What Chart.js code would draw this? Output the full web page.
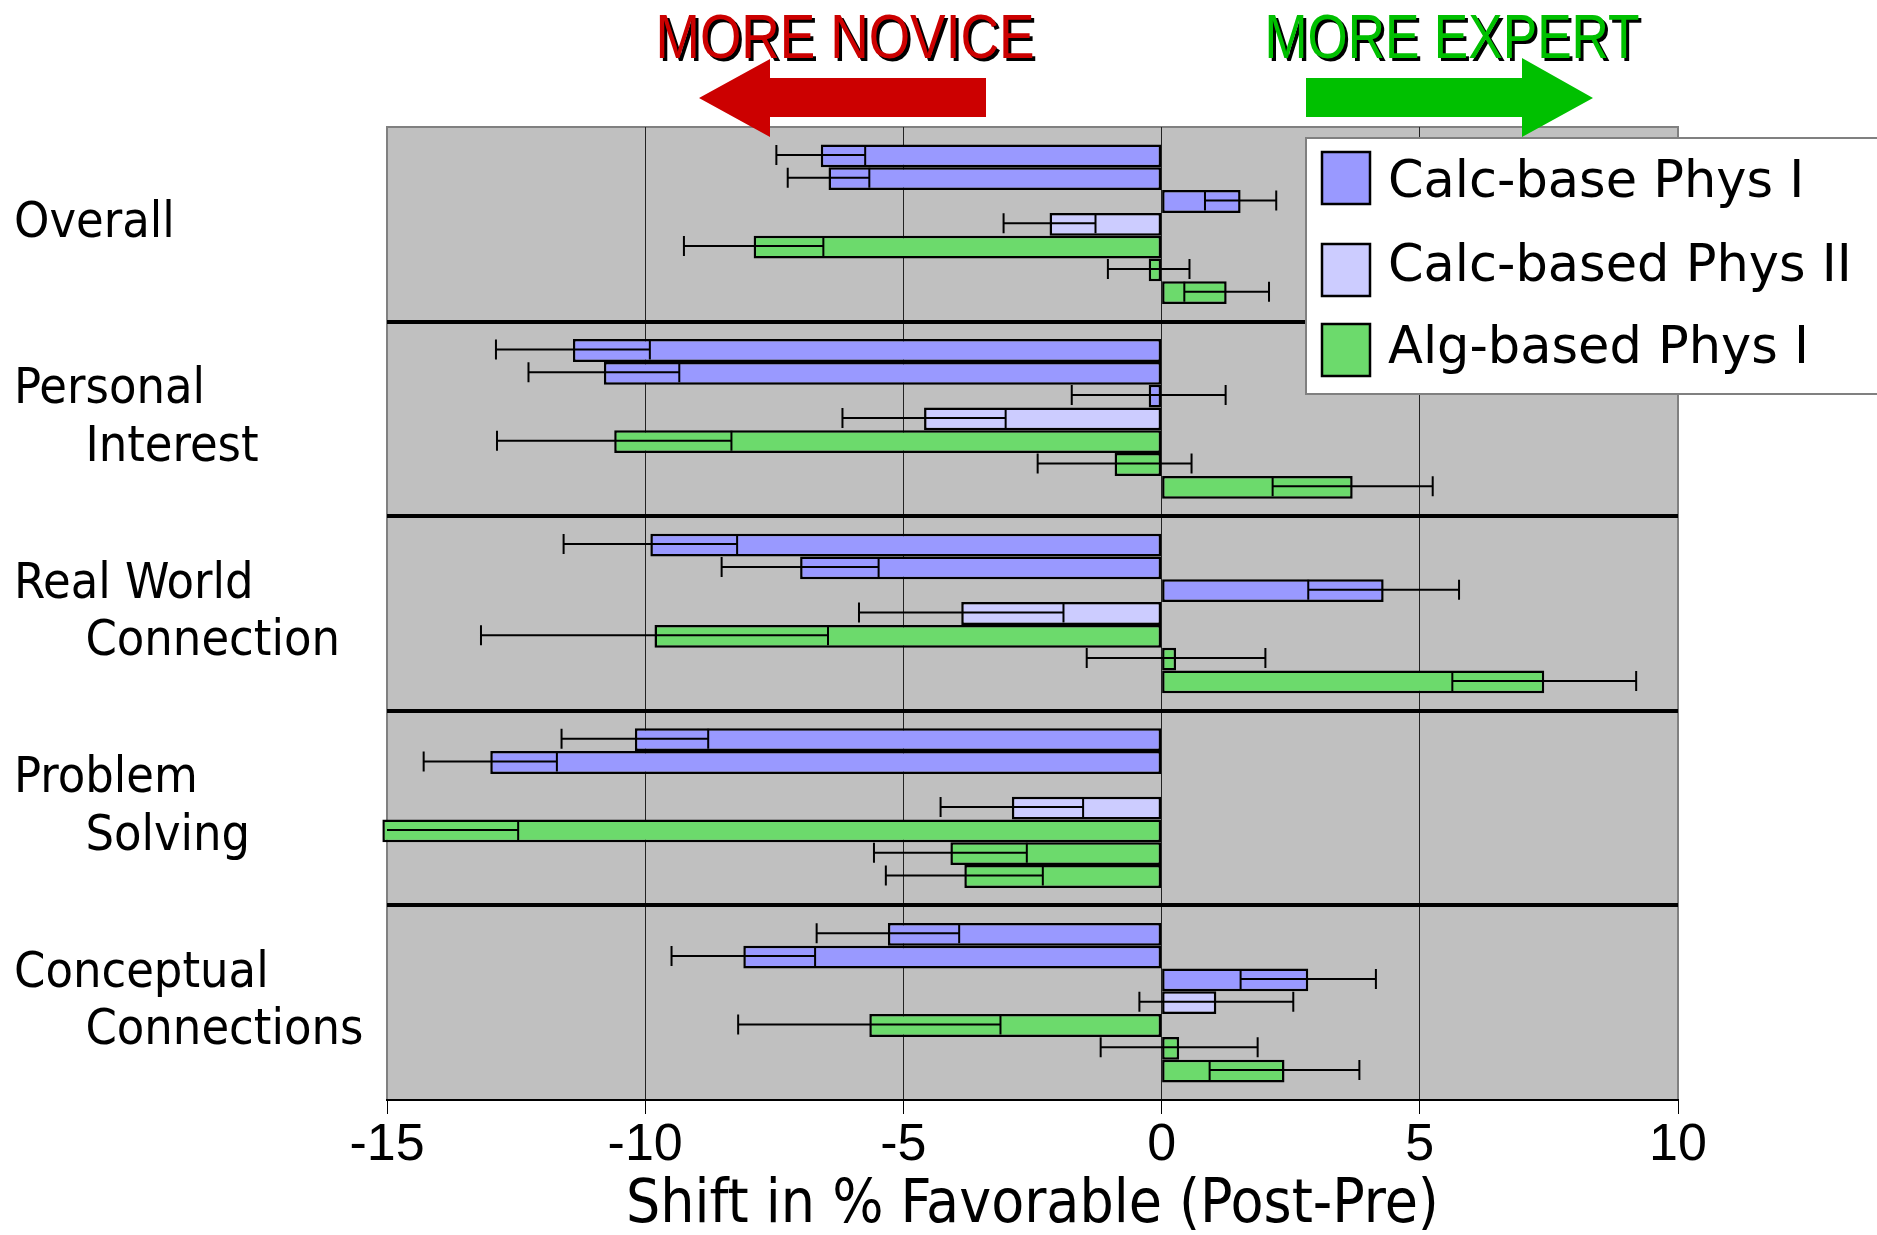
<!DOCTYPE html>
<html>
<head>
<meta charset="utf-8">
<title>Shift in % Favorable (Post-Pre)</title>
<script src="https://cdn.jsdelivr.net/npm/chart.js@4.4.1/dist/chart.umd.min.js"></script>
<style>
  html, body { margin: 0; padding: 0; background: #fff; }
  canvas { display: block; }
</style>
</head>
<body>
<canvas id="grafico" width="1877" height="1235"></canvas>
<script>
// Category labels (second line indented)
const categorias = [
    ['Overall'],
    ['Personal', '     Interest'],
    ['Real World', '     Connection'],
    ['Problem', '     Solving'],
    ['Conceptual', '     Connections']
];

// Shift values per course, one bar per course section
const calcI_a   = [-6.6, -11.4, -9.9, -10.2, -5.3];
const calcI_b   = [-6.45, -10.8, -7.0, -13.0, -8.1];
const calcI_c   = [1.53, -0.25, 4.3, null, 2.84];
const calcII    = [-2.17, -4.6, -3.88, -2.9, 1.06];
const algI_a    = [-7.9, -10.6, -9.82, -15.09, -5.66];
const algI_b    = [-0.25, -0.91, 0.28, -4.09, 0.34];
const algI_c    = [1.26, 3.7, 7.41, -3.82, 2.38];

// Standard errors for each bar
const erroCalcI_a = [0.86, 1.49, 1.68, 1.42, 1.38];
const erroCalcI_b = [0.79, 1.46, 1.52, 1.29, 1.39];
const erroCalcI_c = [0.69, 1.49, 1.46, null, 1.31];
const erroCalcII  = [0.89, 1.58, 1.98, 1.38, 1.49];
const erroAlgI_a  = [1.35, 2.27, 3.36, 2.63, 2.54];
const erroAlgI_b  = [0.79, 1.49, 1.73, 1.48, 1.52];
const erroAlgI_c  = [0.82, 1.55, 1.78, 1.52, 1.45];

const nomes = ['Calc-base Phys I', 'Calc-based Phys II', 'Alg-based Phys I'];
const cores = ['#9999FF', '#CCCCFF', '#6CDA6C'];

const xMin = -15, xMax = 10, xPasso = 5;

function serie(nome, cor, dados, erros) {
    return { label: nome, data: dados, erros: erros, backgroundColor: cor, clip: false };
}

// Grey plot area with its frame
const fundoPlotagem = {
    id: 'fundoPlotagem',
    beforeDraw(chart) {
        const { ctx, chartArea: a } = chart;
        ctx.save();
        ctx.fillStyle = '#C0C0C0';
        ctx.fillRect(a.left, a.top, a.width, a.height);
        ctx.strokeStyle = '#808080';
        ctx.lineWidth = 2;
        ctx.strokeRect(a.left, a.top, a.width, a.height);
        ctx.restore();
    }
};

// Error bars centred on the end of each bar
const barrasDeErro = {
    id: 'barrasDeErro',
    afterDatasetsDraw(chart) {
        const { ctx, chartArea: a, scales: { x } } = chart;
        ctx.save();
        ctx.beginPath();
        ctx.rect(a.left, a.top, a.width, a.height);
        ctx.clip();
        ctx.strokeStyle = '#000';
        ctx.lineWidth = 2;
        chart.data.datasets.forEach((ds, i) => {
            chart.getDatasetMeta(i).data.forEach((barra, j) => {
                const v = ds.data[j], e = ds.erros[j];
                if (v == null || e == null) return;
                const x1 = x.getPixelForValue(v - e);
                const x2 = x.getPixelForValue(v + e);
                const y = barra.y - 1, h = 10;
                ctx.beginPath();
                ctx.moveTo(x1, y); ctx.lineTo(x2, y);
                ctx.moveTo(x1, y - h); ctx.lineTo(x1, y + h);
                ctx.moveTo(x2, y - h); ctx.lineTo(x2, y + h);
                ctx.stroke();
            });
        });
        ctx.restore();
    }
};

// Arrows and captions above the plot
function seta(ctx, cor, pontos) {
    ctx.fillStyle = cor;
    ctx.beginPath();
    pontos.forEach((p, k) => k ? ctx.lineTo(p[0], p[1]) : ctx.moveTo(p[0], p[1]));
    ctx.closePath();
    ctx.fill();
}

function textoSombra(ctx, texto, cor, x, y, largura) {
    ctx.save();
    ctx.font = "63px 'Liberation Sans', Arial, sans-serif";
    ctx.textAlign = 'center';
    ctx.textBaseline = 'alphabetic';
    ctx.shadowColor = '#000';
    ctx.shadowOffsetX = 3;
    ctx.shadowOffsetY = 3;
    ctx.shadowBlur = 0;
    ctx.fillStyle = cor;
    ctx.fillText(texto, x, y, largura);
    ctx.restore();
}

const setas = {
    id: 'setas',
    afterDraw(chart) {
        const ctx = chart.ctx;
        ctx.save();
        seta(ctx, '#CC0000', [[699, 98], [770, 59], [770, 78], [986, 78], [986, 117], [770, 117], [770, 137]]);
        seta(ctx, '#00C000', [[1306, 78], [1522, 78], [1522, 58], [1593, 98], [1522, 137], [1522, 117], [1306, 117]]);
        ctx.restore();
        textoSombra(ctx, 'MORE NOVICE', '#CC0000', 845, 58, 379);
        textoSombra(ctx, 'MORE EXPERT', '#00C000', 1452, 58, 375);
    }
};

// Boxed legend, one entry per course
const legendaCaixa = {
    id: 'legendaCaixa',
    afterDraw(chart) {
        const ctx = chart.ctx;
        const itens = [];
        chart.data.datasets.forEach(ds => {
            if (!itens.find(it => it.label === ds.label)) itens.push(ds);
        });
        ctx.save();
        ctx.fillStyle = '#fff';
        ctx.fillRect(1306, 138, 580, 256);
        ctx.strokeStyle = '#808080';
        ctx.lineWidth = 2;
        ctx.strokeRect(1306, 138, 580, 256);
        const caixas = [178, 270, 350];
        const textos = [184, 268, 350];
        ctx.font = "51px 'DejaVu Sans', sans-serif";
        ctx.textBaseline = 'middle';
        itens.forEach((ds, k) => {
            const cy = caixas[k];
            ctx.fillStyle = ds.backgroundColor;
            ctx.fillRect(1322, cy - 26, 48, 52);
            ctx.strokeStyle = '#000';
            ctx.lineWidth = 2.5;
            ctx.strokeRect(1322, cy - 26, 48, 52);
            ctx.fillStyle = '#000';
            ctx.fillText(ds.label, 1388, textos[k]);
        });
        ctx.restore();
    }
};

const ctx = document.getElementById('grafico').getContext('2d');
new Chart(ctx, {
    type: 'bar',
    data: {
        labels: categorias,
        datasets: [
            serie(nomes[0], cores[0], calcI_a, erroCalcI_a),
            serie(nomes[0], cores[0], calcI_b, erroCalcI_b),
            serie(nomes[0], cores[0], calcI_c, erroCalcI_c),
            serie(nomes[1], cores[1], calcII, erroCalcII),
            serie(nomes[2], cores[2], algI_a, erroAlgI_a),
            serie(nomes[2], cores[2], algI_b, erroAlgI_b),
            serie(nomes[2], cores[2], algI_c, erroAlgI_c)
        ]
    },
    options: {
        indexAxis: 'y',
        responsive: false,
        animation: false,
        devicePixelRatio: 1,
        layout: { padding: { left: 14, top: 127, right: 199, bottom: 0 } },
        datasets: {
            bar: {
                categoryPercentage: 0.82,
                barPercentage: 1,
                borderColor: '#000',
                borderWidth: 2.5,
                borderSkipped: false
            }
        },
        plugins: {
            legend: { display: false },
            tooltip: { enabled: false }
        },
        scales: {
            x: {
                min: xMin,
                max: xMax,
                ticks: {
                    stepSize: xPasso,
                    color: '#000',
                    padding: 0,
                    font: { family: "'Liberation Sans', Arial, sans-serif", size: 52 }
                },
                grid: {
                    color: c => (c.tick && (c.tick.value <= xMin || c.tick.value >= xMax)) ? '#808080' : '#222',
                    lineWidth: 1,
                    tickLength: 14,
                    tickColor: '#000'
                },
                border: { display: true, color: '#000', width: 2 },
                title: {
                    display: true,
                    text: 'Shift in % Favorable (Post-Pre)',
                    color: '#000',
                    padding: 0,
                    font: { family: "'DejaVu Sans Condensed', 'DejaVu Sans', sans-serif", size: 60, lineHeight: 0.95 }
                },
                afterFit: s => { s.height = 135; }
            },
            y: {
                ticks: {
                    color: '#000',
                    crossAlign: 'far',
                    font: { family: "'DejaVu Sans Condensed', 'DejaVu Sans', sans-serif", size: 50, lineHeight: 1.15 }
                },
                grid: {
                    offset: true,
                    drawTicks: false,
                    lineWidth: 4,
                    color: c => (c.index > 0 && c.index < categorias.length) ? '#000' : 'rgba(0,0,0,0)'
                },
                border: { display: false },
                afterFit: s => { s.width = 373; }
            }
        }
    },
    plugins: [fundoPlotagem, barrasDeErro, setas, legendaCaixa]
});
</script>
</body>
</html>
